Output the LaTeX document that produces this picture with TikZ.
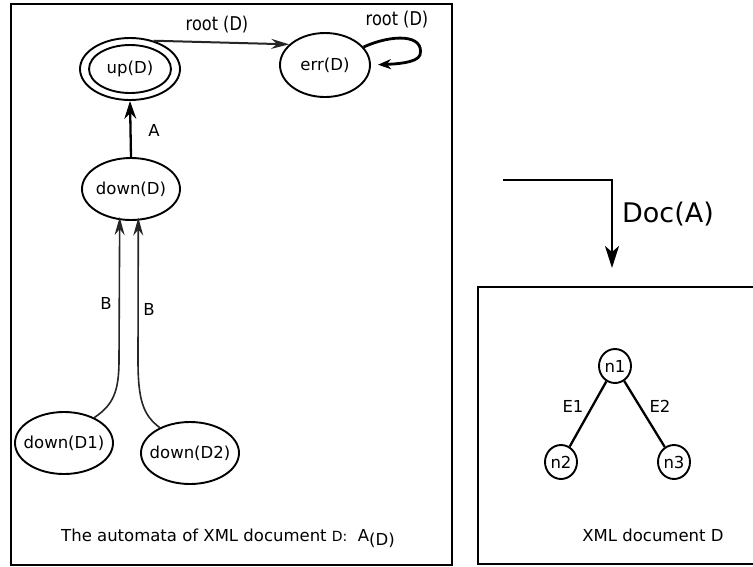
\documentclass[tikz,border=0pt]{standalone}
\usepackage{fontspec}
\setmainfont{DejaVu Sans}
\newfontfamily\condfont[FakeStretch=0.85]{DejaVu Sans}
\usetikzlibrary{shapes.geometric,arrows.meta,calc}
\newcommand{\zw}[1]{\makebox[0pt]{#1}}
\begin{document}
\begin{tikzpicture}[x=1pt,y=-1pt,
  st/.style={ellipse,draw,line width=1.9pt,inner sep=0pt,font=\fontsize{16.5}{16.5}\selectfont},
  lbl/.style={inner sep=0pt,font=\fontsize{16.5}{16.5}\selectfont},
  rlbl/.style={inner sep=0pt,font=\condfont\fontsize{19}{19}\selectfont},
  frame/.style={draw,line width=2.4pt},
  garrow/.style={line width=1.6pt,-{Stealth[length=18pt,width=10pt,inset=6pt]},draw=black!85},
  barrow/.style={line width=2.3pt,-{Stealth[length=18pt,width=12pt,inset=6pt]}}]
\useasboundingbox (0,0) rectangle (753,566);
% frames
\draw[frame] (11,4) rectangle (452,565);
\draw[frame] (478,287) rectangle (770,564);
% automaton states
\node[st,minimum width=100pt,minimum height=62pt] (up) at (130,69) {};
\node[st,minimum width=82pt,minimum height=48pt] (upin) at (130,69) {\zw{up(D)}};
\node[st,minimum width=90pt,minimum height=64pt] (err) at (325,65) {\zw{err(D)}};
\node[st,minimum width=98pt,minimum height=62pt] (down) at (131,189) {\zw{down(D)}};
\node[st,minimum width=98pt,minimum height=62pt] (d1) at (64,443) {\zw{down(D1)}};
\node[st,minimum width=98pt,minimum height=62pt] (d2) at (190,453) {\zw{down(D2)}};
% transitions
\draw[garrow,line width=2pt] (up.50) -- (err.150);
\node[rlbl] (lroot) at (217,25) {root (D)};
\draw[line width=2.8pt,-{Stealth[length=13pt,width=10pt,inset=4pt]},shorten >=7pt]
  (err.25) .. controls (392,34) and (425,34) .. (420,55)
  .. controls (417,63) and (395,64) .. (err.0);
\node[rlbl] (lloop) at (397,20) {root (D)};
\draw[barrow] (down.north) -- (up.south);
\node[lbl] (la) at (154,130) {A};
\draw[garrow,shorten >=-3pt] (d1.40) .. controls (113,405) and (119,392) .. (119,360) -- (down.250);
\draw[garrow,shorten >=-3pt] (d2.140) .. controls (143,415) and (138,400) .. (138,360) -- (down.283);
\node[lbl] (lb1) at (106,303) {B};
\node[lbl] (lb2) at (149,309) {B};
\node[lbl,anchor=base] (cap1) at (228,541) {The automata of XML document {\fontsize{14}{14}\selectfont D:}\ \ A\raisebox{-4pt}{(D)}};
% Doc(A) connector
\coordinate (docstart) at (503,180);
\coordinate (docend) at (612,268);
\draw[line width=2.3pt,-{Stealth[length=22pt,width=14pt,inset=6pt]}] (docstart) -| (docend);
\node[inner sep=0pt,font=\fontsize{27}{27}\selectfont] (ldoc) at (668,214) {Doc(A)};
% XML tree
\node[st,minimum width=32pt,minimum height=34pt] (n1) at (615,366) {\zw{n1}};
\node[st,minimum width=32pt,minimum height=34pt] (n2) at (561,462) {\zw{n2}};
\node[st,minimum width=32pt,minimum height=34pt] (n3) at (674,462) {\zw{n3}};
\draw[line width=2.3pt] (n1) -- (n2);
\draw[line width=2.3pt] (n1) -- (n3);
\node[lbl] (le1) at (573,406) {E1};
\node[lbl] (le2) at (660,406) {E2};
\node[lbl] (cap2) at (653,535) {XML document D};
\end{tikzpicture}
\end{document}
